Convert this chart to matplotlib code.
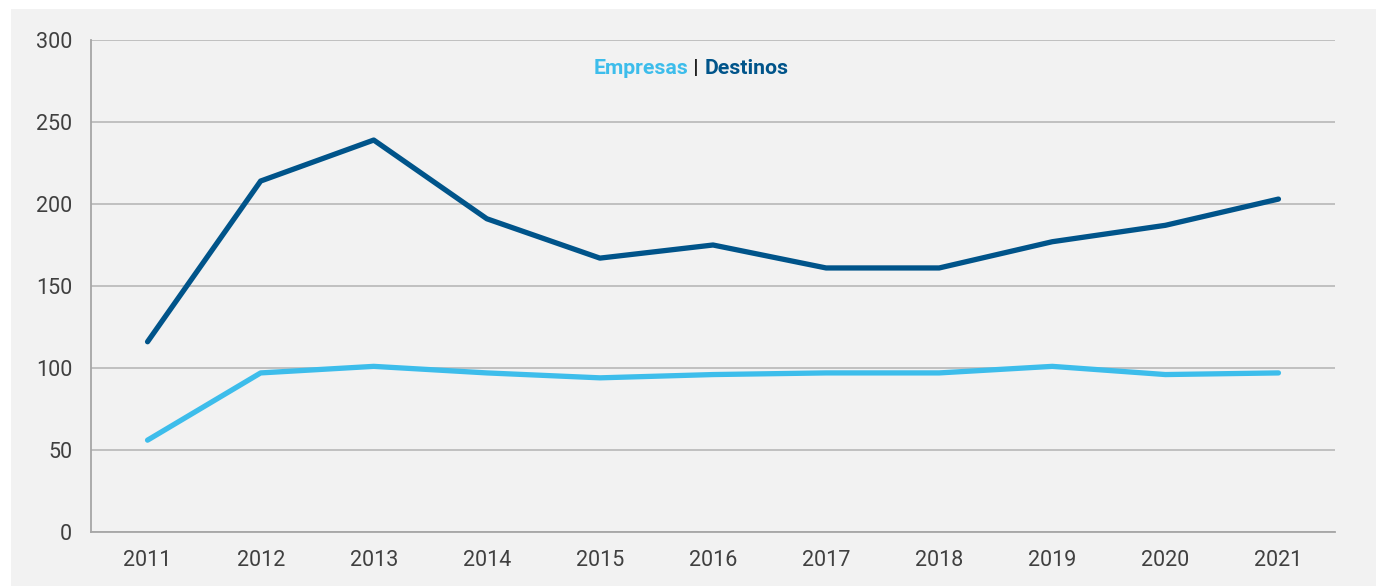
import matplotlib
matplotlib.use("Agg")
import matplotlib.pyplot as plt
from matplotlib.patches import Rectangle

years = [2011, 2012, 2013, 2014, 2015, 2016, 2017, 2018, 2019, 2020, 2021]
empresas = [56, 97, 101, 97, 94, 96, 97, 97, 101, 96, 97]
destinos = [116, 214, 239, 191, 167, 175, 161, 161, 177, 187, 203]
yticks = [0, 50, 100, 150, 200, 250, 300]

plt.rcParams['font.family'] = ['Roboto', 'DejaVu Sans']

W, H = 1376, 586
fig = plt.figure(figsize=(W/100, H/100), dpi=100, facecolor='white')
fig.patches.append(Rectangle((11/W, 0), 1 - 11/W, (H-9)/H, transform=fig.transFigure,
                             facecolor='#f2f2f2', edgecolor='none', zorder=-10))

ax = fig.add_axes([91/W, (H-532)/H, (1335-91)/W, (532-40)/H])
ax.patch.set_alpha(0)

c_emp = '#3dbdeb'
c_des = '#00548a'
ax.plot(years, destinos, color=c_des, lw=3.8, solid_capstyle='round', solid_joinstyle='round', zorder=3)
ax.plot(years, empresas, color=c_emp, lw=3.8, solid_capstyle='round', solid_joinstyle='round', zorder=3)

ax.set_xlim(2010.5, 2021.5)
ax.set_ylim(0, 300)
ax.set_yticks(yticks)
ax.set_xticks(years)
ax.set_xticklabels([str(y) for y in years])
ax.grid(axis='y', color='#b3b3b3', lw=1.1)
ax.set_axisbelow(True)
for s in ['top', 'right']:
    ax.spines[s].set_visible(False)
for s in ['left', 'bottom']:
    ax.spines[s].set_color('#a6a6a6')
    ax.spines[s].set_linewidth(1.3)
ax.tick_params(length=0, labelsize=15.5, colors='#404040')
ax.tick_params(axis='y', pad=13.5)
ax.tick_params(axis='x', pad=13)

# title pieces
fs = 15.3
y = 0.943
t_e = ax.text(0.5, y, 'Empresas', transform=ax.transAxes, ha='left', va='center',
              fontsize=fs, fontweight='bold', color=c_emp)
t_b = ax.text(0.5, y, ' | ', transform=ax.transAxes, ha='left', va='center',
              fontsize=fs, fontweight='bold', color='#222222')
t_d = ax.text(0.5, y, 'Destinos', transform=ax.transAxes, ha='left', va='center',
              fontsize=fs, fontweight='bold', color=c_des)
fig.canvas.draw()
r = fig.canvas.get_renderer()
we = t_e.get_window_extent(r).width
wb = t_b.get_window_extent(r).width
wd = t_d.get_window_extent(r).width
total = we + wb + wd
cx = 691
x0 = cx - total/2
axbb = ax.get_window_extent(r)
def ax_x(px):
    return (px - axbb.x0) / axbb.width
t_e.set_x(ax_x(x0))
t_b.set_x(ax_x(x0 + we))
t_d.set_x(ax_x(x0 + we + wb))

fig.savefig('out.png', dpi=100, facecolor='white')
